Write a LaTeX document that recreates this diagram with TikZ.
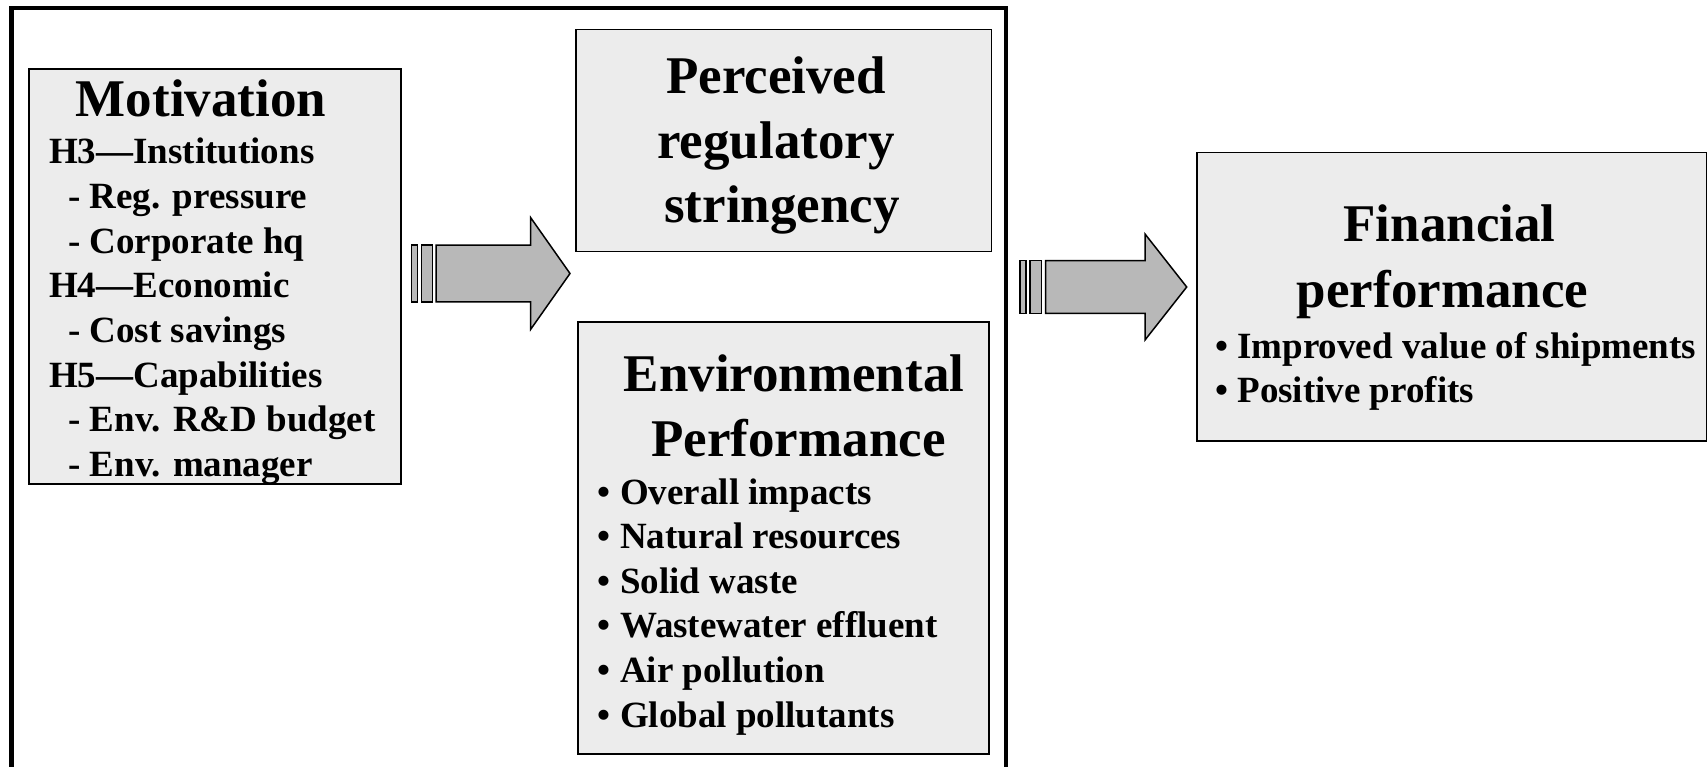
\documentclass[tikz,border=0pt]{standalone}
\usepackage{fontspec}
\setmainfont{Liberation Serif}
\definecolor{boxfill}{RGB}{236,236,236}
\definecolor{arrowfill}{RGB}{184,184,184}
\begin{document}
\begin{tikzpicture}[x=1pt,y=-1pt,
  box/.style={draw=black, line width=1.5pt, fill=boxfill, inner sep=0pt, anchor=north west},
  titletext/.style={font=\fontsize{53}{64}\selectfont\bfseries, inner sep=0pt, anchor=base},
  itemtext/.style={font=\fontsize{37}{44.6}\selectfont\bfseries, inner sep=0pt, anchor=base west},
  barrow/.style={draw=black, line width=1.5pt, fill=arrowfill, line join=miter}]
\useasboundingbox (0,0) rectangle (1708,767);

% outer frame (open at the bottom)
\draw[line width=4.5pt, line join=miter] (11.5,767) -- (11.5,8) -- (1006,8) -- (1006,767);

% boxes
\node[box, minimum width=372pt, minimum height=415pt] (mot) at (28.3,68.3) {};
\node[box, minimum width=415.5pt, minimum height=222pt] (reg) at (575,29) {};
\node[box, minimum width=411pt, minimum height=431.5pt] (env) at (577,321.5) {};
\node[box, minimum width=509.5pt, minimum height=288pt] (fin) at (1196,152) {};

% Motivation
\node[titletext] (motT) at (201,116.7) {Motivation};
\node[itemtext] (m1) at (49,164)    {H3—Institutions};
\node[itemtext] (m2) at (68,208.6)  {- Reg. pressure};
\node[itemtext] (m3) at (68,253.2)  {- Corporate hq};
\node[itemtext] (m4) at (49,297.8)  {H4—Economic};
\node[itemtext] (m5) at (68,342.4)  {- Cost savings};
\node[itemtext] (m6) at (49,387)    {H5—Capabilities};
\node[itemtext] (m7) at (68,431.6)  {- Env. R\&D budget};
\node[itemtext] (m8) at (68,476.2)  {- Env. manager};

% Perceived regulatory stringency
\node[titletext] (r1) at (776,94)    {Perceived};
\node[titletext] (r2) at (776,158.5) {regulatory};
\node[titletext] (r3) at (782,223)   {stringency};

% Environmental performance
\node[titletext] (e1) at (794,391)   {Environmental};
\node[titletext] (e2) at (798.5,456) {Performance};
\node[itemtext] (e3) at (597.7,504)  {• Overall impacts};
\node[itemtext] (e4) at (597.7,548.6){• Natural resources};
\node[itemtext] (e5) at (597.7,593.2){• Solid waste};
\node[itemtext] (e6) at (597.7,637.8){• Wastewater effluent};
\node[itemtext] (e7) at (597.7,682.4){• Air pollution};
\node[itemtext] (e8) at (597.7,727)  {• Global pollutants};

% Financial performance
\node[titletext] (f1) at (1449.5,242) {Financial};
\node[titletext] (f2) at (1442.5,308) {performance};
\node[itemtext] (f3) at (1215,358)    {• Improved value of shipments};
\node[itemtext] (f4) at (1215,402.5)  {• Positive profits};

% block arrows
\coordinate (a1tip) at (570,273.5);
\coordinate (a2tip) at (1186.7,287);
\begin{scope}[shift={(a1tip)}]
  \draw[barrow] (-158.3,-28.4) rectangle (-152.7,28.4);
  \draw[barrow] (-148.3,-28.4) rectangle (-137.7,28.4);
  \draw[barrow] (-134,-28.4) -- (-39.3,-28.4) -- (-39.3,-55.8) -- (0,0)
     -- (-39.3,55.8) -- (-39.3,28.4) -- (-134,28.4) -- cycle;
\end{scope}
\begin{scope}[shift={(a2tip)}]
  \draw[barrow] (-166.7,-26.3) rectangle (-160.7,26.3);
  \draw[barrow] (-156.7,-26.3) rectangle (-145,26.3);
  \draw[barrow] (-141,-26.3) -- (-41.7,-26.3) -- (-41.7,-53) -- (0,0)
     -- (-41.7,53) -- (-41.7,26.3) -- (-141,26.3) -- cycle;
\end{scope}
\end{tikzpicture}
\end{document}
